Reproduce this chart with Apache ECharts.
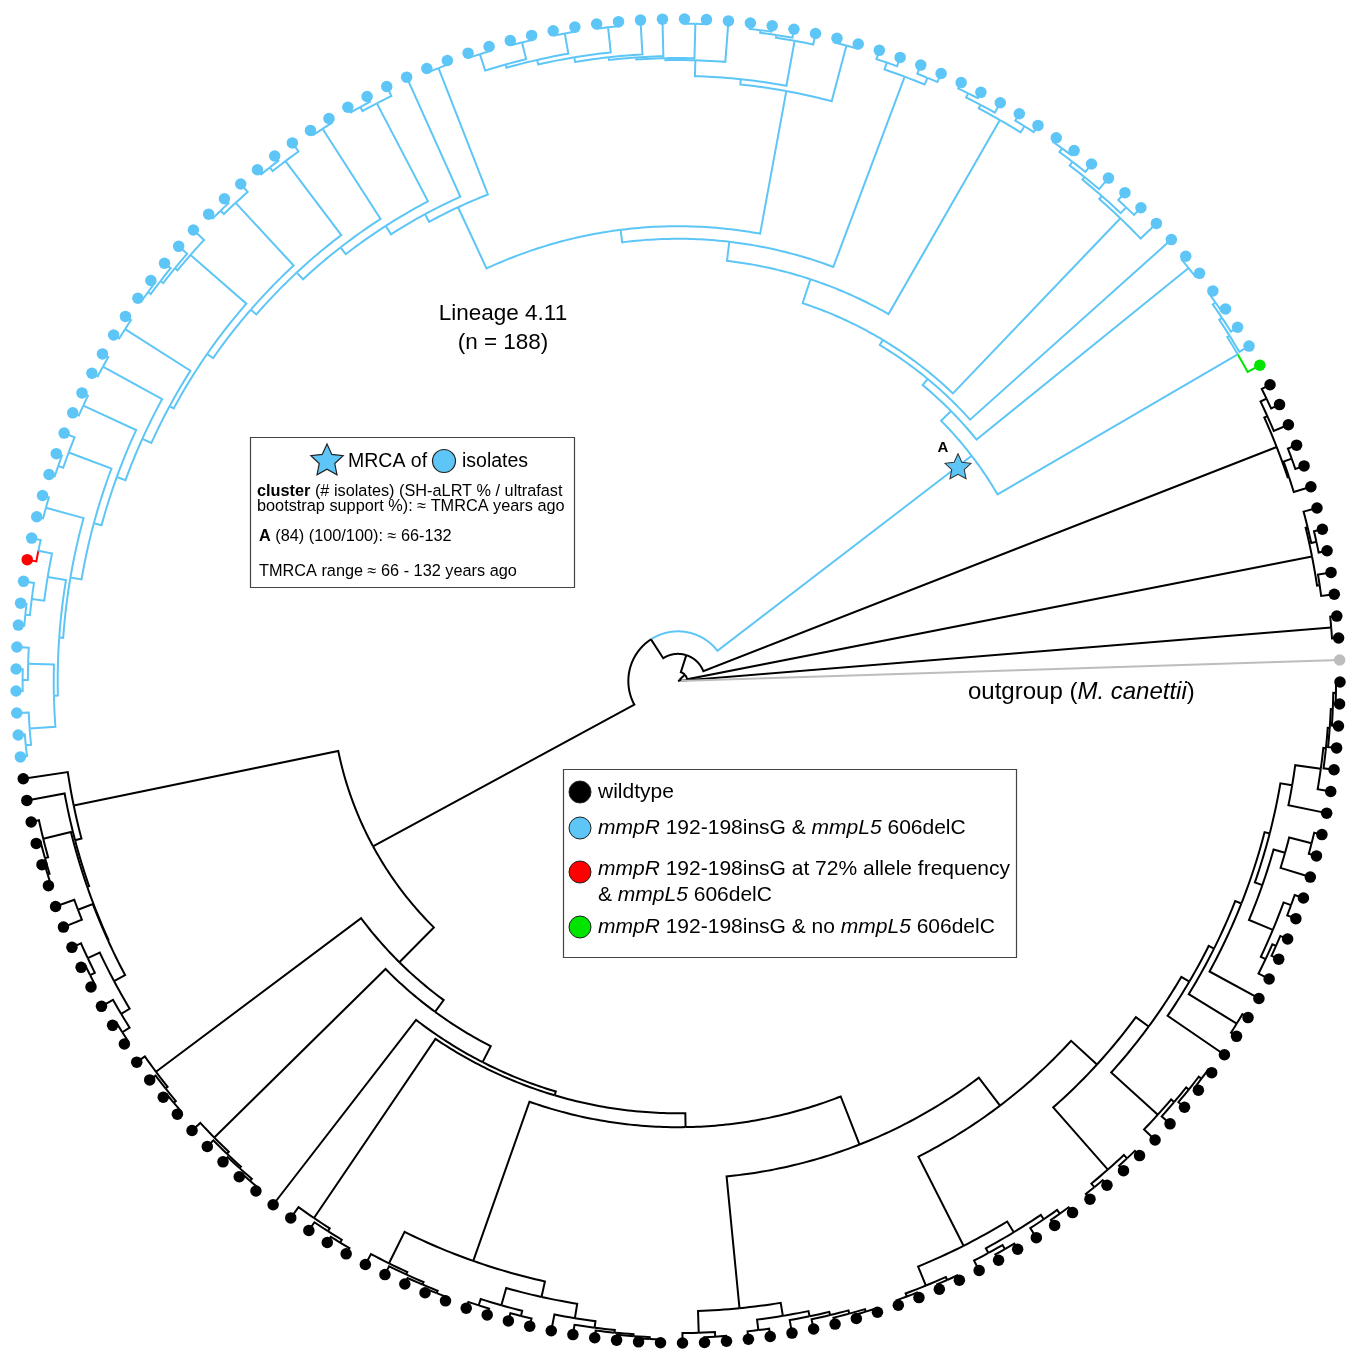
<!DOCTYPE html>
<html><head><meta charset="utf-8">
<script src="https://cdn.jsdelivr.net/npm/echarts@6/dist/echarts.min.js"></script>
<style>html,body{margin:0;padding:0;background:#fff}#c{width:1356px;height:1349px}</style>
</head><body><div id="c"></div>
<script>
// ===== DATA: tree clades as [depth(0=root..100=tips), child, child]; leaves: k=wildtype, b=mmpR+mmpL5, r=72% allele, g=no mmpL5, o=outgroup
// --- black, upper right ---
const C1 = [99.0, 'k', 'k'];
const C3 = [97.6, [98.0, 'k', 'k'], [97.9, [98.7, 'k', 'k'], 'k']];
const C8 = [97.1, [97.3, 'k', [98.6, 'k', 'k']], [97.6, 'k', [98.6, 'k', 'k']]];
// --- cluster A (blue) ---
const A1 = [97.9, 'g', [98.3, 'b', [98.8, 'b', [99.3, 'b', 'b']]]];
const C19 = [99.2, 'b', 'b'];
const C22 = [96.7, 'b', [97.3, [98.5, 'b', 'b'], [97.8, 'b', [98.5, 'b', [99.2, 'b', 'b']]]]];
const C29 = [97.7, [98.8, 'b', 'b'], [98.3, 'b', [99.0, 'b', 'b']]];
const C34 = [97.5, [98.6, 'b', 'b'], [98.6, 'b', 'b']];
const C38 = [99.3, 'b', 'b'];
const B1c = [98.3, 'b', [98.7, 'b', [99.1, 'b', 'b']]];
const Zl = [93.8, 'b', [94.1, [99.3, 'b', 'b'], [94.4, 'b', [94.8, 'b', [95.5, [99.3, 'b', 'b'], [96.2, [99.3, 'b', 'b'], [96.7, [99.3, 'b', 'b'], [99.3, 'b', 'b']]]]]]]];
const B1 = [90.6, C38, [91.4, B1c, Zl]];
const C57 = [99.4, 'b', 'b'];
const C60 = [98.4, 'b', [99.1, 'b', 'b']];
const C63 = [99.2, 'b', 'b'];
const C65 = [98.4, 'b', [99.1, 'b', 'b']];
const C68 = [98.4, 'b', [99.1, 'b', 'b']];
const C71 = [97.8, 'b', [98.3, 'b', [98.8, 'b', [99.3, 'b', 'b']]]];
const C76 = [99.0, 'b', 'b'];
const C78 = [99.0, 'b', 'b'];
const C80 = [99.0, 'b', 'b'];
const C82 = [98.3, 'b', [99.1, 'b', 'b']];
const C85 = [99.0, 'b', 'b'];
const C87 = [96.5, [98.6, 'b', 'r'], [98.4, 'b', [99.1, 'b', 'b']]];
const C92 = [98.2, 'b', [99.0, 'b', 'b']];
const C95 = [98.2, 'b', [99.0, 'b', 'b']];
const B15 = [94.3, C92, C95];
const B14 = [93.7, C87, B15];
const B13 = [93.1, C85, B14];
const B12 = [91.4, C82, B13];
const B11 = [90.2, C80, B12];
const B10 = [88.8, C78, B11];
const B9 = [87.3, C76, B10];
const B8 = [86.6, C71, B9];
const B7 = [85.5, C68, B8];
const B6 = [84.4, C65, B7];
const B5 = [83.0, C63, B6];
const B4 = [81.7, C60, B5];
const B3 = [80.2, 'b', B4];
const B2 = [78.9, C57, B3];
const Bn = [68.7, B1, B2];
const A5 = [63.9, C29, [66.8, C34, Bn]];
const A2 = [58.0, C19, [59.2, 'b', [60.1, C22, A5]]];
const A = [55.9, A1, A2];
// --- black, lower half ---
const X100 = [98.8, 'k', [99.3, 'k', [99.6, 'k', 'k']]];
const Y104 = [94.6, [97.0, 'k', 'k'], [96.5, [98.5, 'k', [99.3, 'k', 'k']], [98.0, 'k', [99.3, 'k', 'k']]]];
const BLa = [93.2, 'k', [94.2, 'k', [94.5, X100, Y104]]];
const C112 = [98.5, 'k', [98.9, 'k', [99.3, 'k', 'k']]];
const C116 = [98.3, 'k', [98.7, 'k', [99.0, 'k', [99.4, 'k', 'k']]]];
const C122 = [98.0, 'k', [98.5, 'k', [99.0, 'k', 'k']]];
const D1 = [98.2, 'k', [98.6, 'k', [99.0, 'k', [99.4, 'k', 'k']]]];
const D2a = [98.0, [99.0, 'k', 'k'], [98.8, 'k', 'k']];
const E135 = [97.5, 'k', [98.5, 'k', [98.9, 'k', [99.2, 'k', [99.5, 'k', 'k']]]]];
const D = [92.9, D1, [95.3, D2a, E135]];
const G1 = [98.5, 'k', [99.2, 'k', 'k']];
const G2 = [97.2, [98.8, 'k', 'k'], [98.0, 'k', [98.5, 'k', [99.0, 'k', [99.4, 'k', 'k']]]]];
const F2a = [95.6, [98.7, [99.2, 'k', 'k'], [99.2, 'k', 'k']], [97.5, [98.3, 'k', [99.0, 'k', 'k']], [98.3, 'k', [99.0, 'k', 'k']]]];
const H161 = [98.3, [99.0, 'k', 'k'], [99.0, 'k', 'k']];
const I165 = [97.7, 'k', [98.3, 'k', [98.8, 'k', [99.3, 'k', 'k']]]];
const O1 = [93.5, [97.4, [98.2, 'k', [98.8, 'k', 'k']], [98.6, 'k', 'k']], [95.3, 'k', [98.8, 'k', 'k']]];
const O2 = [94.1, 'k', [98.0, 'k', [98.4, 'k', [98.7, 'k', [99.0, 'k', [99.4, 'k', 'k']]]]]];
const L170 = [89.6, 'k', [90.5, [99.0, 'k', 'k'], [91.5, 'k', [92.3, O1, O2]]]];
const J = [85.8, H161, [88.2, I165, L170]];
const F = [75.2, [95.2, G1, G2], [80.5, F2a, J]];
const P = [67.4, D, F];
const BLb = [59.8, C112, [62.0, C116, [64.7, 'k', [65.3, C122, P]]]];
const BL = [52.4, BLa, BLb];
// --- backbone near root ---
const N1 = [7.5, A, BL];
const ROOT = [0, 'o', [0.5, C1, [1.4, C3, [4.1, C8, N1]]]];
const starDepth = 53.3;          // MRCA marker of cluster A, on its stem
const startAngleDeg = 1.82;      // angular position of the first tip (outgroup)

// ===== LAYOUT (midpoint rule, like ggtree circular) =====
const BLUE = '#5EC6F6';
const COLORS = { k: '#000000', b: BLUE, B: BLUE, r: '#FF0000', g: '#00E400', o: '#BDBDBD' };
const COLOR_LIST = ['#000000', BLUE, '#FF0000', '#00E400', '#BDBDBD'];
const COLOR_IDX = { k: 0, b: 1, B: 1, r: 2, g: 3, o: 4 };
let leafCount = 0;
const leaves = [], edges = [];
let nodeA = null;
function layout(node) {
  if (typeof node === 'string') {
    const l = { depth: 100, angle: leafCount++, cat: node };
    leaves.push(l);
    return l;
  }
  const kids = node.slice(1).map(layout);
  const angle = (kids[0].angle + kids[kids.length - 1].angle) / 2;
  const blueFam = kids.every(k => ['b', 'r', 'g', 'B'].indexOf(k.cat) >= 0);
  const out = { depth: node[0], angle, kids, cat: blueFam ? 'B' : 'k' };
  kids.forEach(k => edges.push([node[0], angle, k.depth, k.angle, COLOR_IDX[k.cat]]));
  if (node === A) nodeA = out;
  return out;
}
layout(ROOT);

const starPath = 'path://M0,-10 L2.821,-3.883 L9.511,-3.090 L4.565,1.483 L5.878,8.090 L0,4.8 L-5.878,8.090 L-4.565,1.483 L-9.511,-3.090 L-2.821,-3.883 Z';
function starPts(cx, cy, R) {
  const pts = [];
  for (let k = 0; k < 10; k++) {
    const rr = k % 2 === 0 ? R : R * 0.48;
    const th = (-90 + 36 * k) * Math.PI / 180;
    pts.push([cx + rr * Math.cos(th), cy + rr * Math.sin(th)]);
  }
  return pts;
}

const FONT = '"Liberation Sans", Arial, Helvetica, sans-serif';
const chart = echarts.init(document.getElementById('c'), null, { renderer: 'canvas' });
const italic = { i: { fontStyle: 'italic', fontSize: 21, fontFamily: FONT, fill: '#000' } };
function txt(x, y, text, size, extra) {
  return Object.assign({ type: 'text', x, y, z: 20,
    style: Object.assign({ text, fontSize: size, fontFamily: FONT, fill: '#000', textVerticalAlign: 'middle', verticalAlign: 'middle' }, extra || {}) });
}
const boldRich = { b: { fontWeight: 'bold', fontSize: 16.3, fontFamily: FONT } };
const option = {
  animation: false,
  polar: { center: [678, 681], radius: 662 },
  angleAxis: { type: 'value', min: 0, max: leafCount, startAngle: startAngleDeg, clockwise: false, show: false,
    axisLine: { show: false }, axisTick: { show: false }, axisLabel: { show: false }, splitLine: { show: false } },
  radiusAxis: { type: 'value', min: 0, max: 100, show: false,
    axisLine: { show: false }, axisTick: { show: false }, axisLabel: { show: false }, splitLine: { show: false } },
  series: [
    { type: 'custom', coordinateSystem: 'polar', z: 1, silent: true,
      data: edges,
      renderItem: function (params, api) {
        const r0 = api.value(0), a0 = api.value(1), r1 = api.value(2), a1 = api.value(3);
        const n = Math.max(1, Math.ceil(Math.abs(a1 - a0) * 4));
        const pts = [];
        for (let s = 0; s <= n; s++) pts.push(api.coord([r0, a0 + (a1 - a0) * s / n]));
        pts.push(api.coord([r1, a1]));
        return { type: 'polyline', shape: { points: pts },
          style: { stroke: COLOR_LIST[api.value(4)], lineWidth: 2, fill: null, lineJoin: 'miter' } };
      } },
    { type: 'scatter', coordinateSystem: 'polar', z: 3, silent: true, symbolSize: 11.5,
      itemStyle: { opacity: 1 },
      data: leaves.map(l => ({ value: [l.depth, l.angle], itemStyle: { color: COLORS[l.cat], opacity: 1 } })) },
    { type: 'scatter', coordinateSystem: 'polar', z: 4, silent: true, symbol: starPath, symbolSize: [26, 25],
      itemStyle: { color: BLUE, borderColor: '#333', borderWidth: 1, opacity: 1 },
      label: { show: true, formatter: 'A', position: 'top', offset: [-15, 7], fontWeight: 'bold', fontSize: 15, fontFamily: FONT, color: '#000' },
      data: [[starDepth, nodeA.angle]] }
  ],
  graphic: [
    // upper legend
    { type: 'rect', z: 10, shape: { x: 250.5, y: 437.5, width: 324, height: 150 }, style: { fill: '#fff', stroke: '#444', lineWidth: 1.2 } },
    { type: 'polygon', z: 20, shape: { points: starPts(327, 461, 17) }, style: { fill: BLUE, stroke: '#222', lineWidth: 1.2 } },
    txt(348, 462, 'MRCA of', 19.5),
    { type: 'circle', z: 20, shape: { cx: 444, cy: 461, r: 11.5 }, style: { fill: BLUE, stroke: '#222', lineWidth: 1.2 } },
    txt(462, 462, 'isolates', 19.5),
    txt(257, 492, '{b|cluster} (# isolates) (SH-aLRT % / ultrafast', 16.3, { rich: boldRich }),
    txt(257, 507, 'bootstrap support %): \u2248 TMRCA years ago', 16.3),
    txt(259, 537, '{b|A} (84) (100/100): \u2248 66-132', 16.3, { rich: boldRich }),
    txt(259, 572, 'TMRCA range \u2248 66 - 132 years ago', 16.3),
    // lower legend
    { type: 'rect', z: 10, shape: { x: 563.5, y: 769.5, width: 453, height: 188 }, style: { fill: '#fff', stroke: '#444', lineWidth: 1.2 } },
    { type: 'circle', z: 20, shape: { cx: 580, cy: 792, r: 11 }, style: { fill: '#000', stroke: '#222', lineWidth: 1 } },
    txt(598, 792, 'wildtype', 21),
    { type: 'circle', z: 20, shape: { cx: 580, cy: 828, r: 11 }, style: { fill: BLUE, stroke: '#222', lineWidth: 1 } },
    txt(598, 828, '{i|mmpR} 192-198insG & {i|mmpL5} 606delC', 21, { rich: italic }),
    { type: 'circle', z: 20, shape: { cx: 580, cy: 872, r: 11 }, style: { fill: '#FF0000', stroke: '#222', lineWidth: 1 } },
    txt(598, 869, '{i|mmpR} 192-198insG at 72% allele frequency', 21, { rich: italic }),
    txt(598, 895, '& {i|mmpL5} 606delC', 21, { rich: italic }),
    { type: 'circle', z: 20, shape: { cx: 580, cy: 927, r: 11 }, style: { fill: '#00E400', stroke: '#222', lineWidth: 1 } },
    txt(598, 927, '{i|mmpR} 192-198insG & no {i|mmpL5} 606delC', 21, { rich: italic }),
    // annotations
    txt(503, 314, 'Lineage 4.11', 22.5, { align: 'center', textAlign: 'center' }),
    txt(503, 343, '(n = 188)', 22.5, { align: 'center', textAlign: 'center' }),
    txt(968, 692, 'outgroup ({i|M. canettii})', 24, { rich: { i: { fontStyle: 'italic', fontSize: 24, fontFamily: FONT } } })
  ]
};
chart.setOption(option);
</script></body></html>
